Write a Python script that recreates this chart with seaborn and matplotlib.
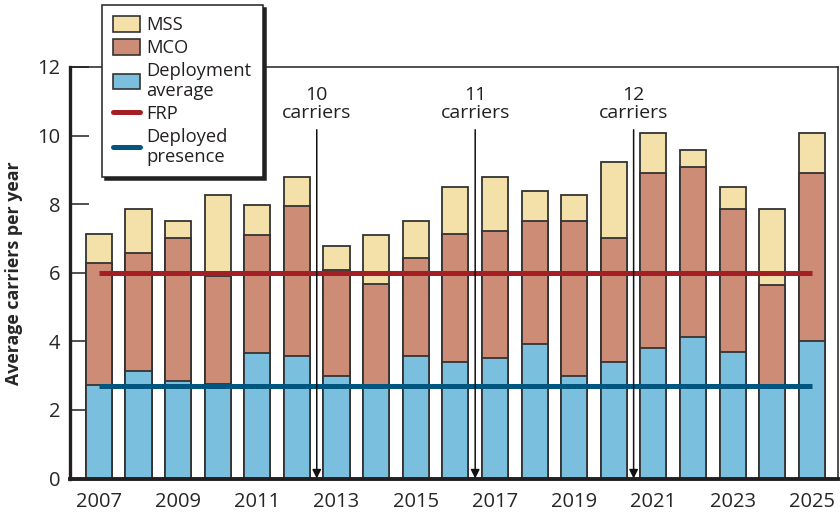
import matplotlib
matplotlib.use("Agg")
import matplotlib.pyplot as plt
import seaborn as sns
import pandas as pd
from matplotlib.patches import Patch
from matplotlib.lines import Line2D

# ---- data ----
years = list(range(2007, 2026))
deployment_avg = [2.74, 3.14, 2.85, 2.75, 3.65, 3.56, 2.98, 2.63, 3.58, 3.40,
                  3.51, 3.91, 2.99, 3.40, 3.81, 4.13, 3.68, 2.72, 4.00]
mco_top = [6.27, 6.57, 7.01, 5.91, 7.09, 7.94, 6.09, 5.66, 6.44, 7.12,
           7.21, 7.52, 7.51, 7.00, 8.91, 9.09, 7.85, 5.64, 8.91]
mss_top = [7.12, 7.86, 7.52, 8.27, 7.99, 8.78, 6.78, 7.11, 7.52, 8.51,
           8.79, 8.39, 8.26, 9.22, 10.08, 9.57, 8.50, 7.86, 10.08]
frp_level = 6.0
deployed_presence = 2.70
carrier_labels = ["10\ncarriers", "11\ncarriers", "12\ncarriers"]
carrier_change_after = [2012, 2016, 2020]   # change happens between this year and next
xtick_years = list(range(2007, 2026, 2))
yticks = [0, 2, 4, 6, 8, 10, 12]

# ---- styling ----
C_MSS = "#F4E1AA"
C_MCO = "#CD8C75"
C_DEP = "#7BBFDF"
C_FRP = "#A31F24"
C_DPR = "#00567F"
EDGE = "#333333"

sns.set_theme(style="white")
plt.rcParams["font.family"] = ["Open Sans", "DejaVu Sans"]
plt.rcParams["text.color"] = "#231F20"

df = pd.DataFrame({"year": [str(y) for y in years],
                   "dep": deployment_avg, "mco": mco_top, "mss": mss_top})

fig = plt.figure(figsize=(8.4, 5.16), dpi=100)
ax = fig.add_axes([70 / 840, 1 - 478.5 / 516, (838 - 70) / 840, (478.5 - 67) / 516])

bw = 0.66
for col, c in [("mss", C_MSS), ("mco", C_MCO), ("dep", C_DEP)]:
    sns.barplot(data=df, x="year", y=col, color=c, saturation=1, width=bw,
                edgecolor=EDGE, linewidth=1.3, ax=ax, zorder=2)

n = len(years)
ax.plot([0, n - 1], [frp_level, frp_level], color=C_FRP, lw=3.6,
        solid_capstyle="butt", zorder=4)
ax.plot([0, n - 1], [deployed_presence, deployed_presence], color=C_DPR, lw=3.6,
        solid_capstyle="butt", zorder=4)

for lab, yr in zip(carrier_labels, carrier_change_after):
    xp = years.index(yr) + 0.5
    ax.annotate("", xy=(xp, 0.0), xytext=(xp, 10.17),
                arrowprops=dict(arrowstyle="-|>", color="#111111", lw=1.1,
                                mutation_scale=13, shrinkA=0, shrinkB=0),
                zorder=5)
    ax.text(xp, 10.40, lab, ha="center", va="bottom", fontsize=14,
            linespacing=1.0, color="#231F20")

ax.set_xlim(-0.73, n - 1 + 0.66)
ax.set_ylim(0, 12)
ax.set_xticks([years.index(y) for y in xtick_years])
ax.set_xticklabels([str(y) for y in xtick_years], fontsize=14.5)
ax.set_yticks(yticks)
ax.set_yticklabels([str(v) for v in yticks], fontsize=14.5)
ax.tick_params(axis="x", length=0, pad=10)
ax.tick_params(axis="y", direction="in", length=13.5, width=1.1, color="#231F20",
               pad=7, left=True)
ax.set_xlabel("")
ax.set_ylabel("Average carriers per year", fontsize=12.8, fontweight="bold",
              labelpad=10)

for side, lw in [("left", 2.4), ("bottom", 2.8), ("top", 1.1), ("right", 1.1)]:
    ax.spines[side].set_visible(True)
    ax.spines[side].set_linewidth(lw)
    ax.spines[side].set_color("#231F20")

handles = [Patch(facecolor=C_MSS, edgecolor=EDGE, lw=1.2),
           Patch(facecolor=C_MCO, edgecolor=EDGE, lw=1.2),
           Patch(facecolor=C_DEP, edgecolor=EDGE, lw=1.2),
           Line2D([], [], color=C_FRP, lw=3.6),
           Line2D([], [], color=C_DPR, lw=3.6)]
labels = ["MSS", "MCO", "Deployment\naverage", "FRP", "Deployed\npresence"]
leg = fig.legend(handles, labels, loc="upper left",
                 bbox_to_anchor=(102 / 840, 1 - 5 / 516),
                 frameon=True, fancybox=False, shadow={"color": "#222222", "alpha": 1},
                 edgecolor="#231F20", framealpha=1, fontsize=13.2,
                 handlelength=1.45, handleheight=0.9, handletextpad=0.35,
                 labelspacing=0.27, borderpad=0.62, borderaxespad=0)
for t in leg.get_texts():
    t.set_linespacing(1.12)
leg.get_frame().set_linewidth(1.1)
leg.set_zorder(10)

fig.savefig("out.png", dpi=100)
